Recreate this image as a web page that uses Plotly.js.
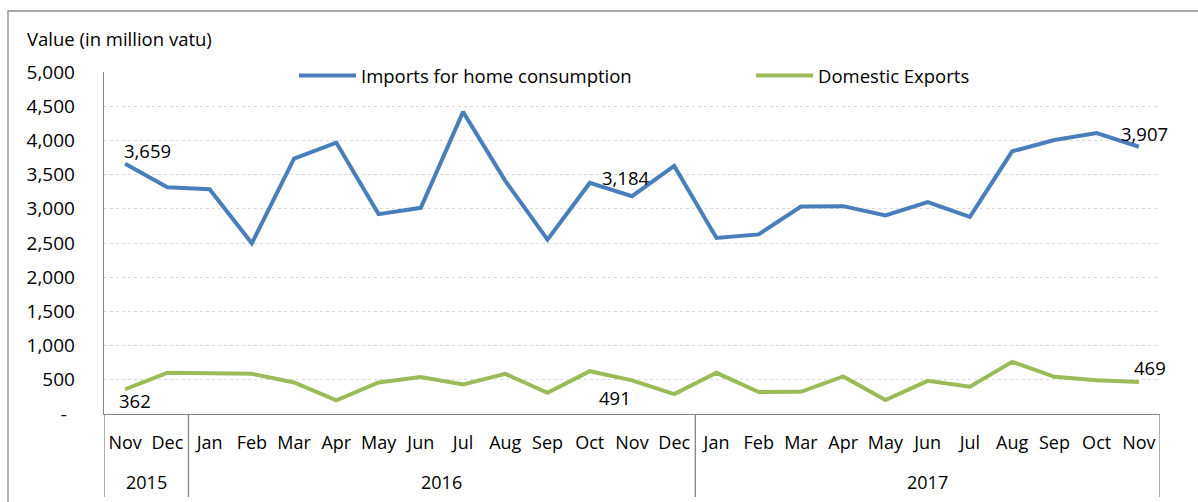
<!DOCTYPE html>
<html>
<head>
<meta charset="utf-8">
<script src="https://cdn.plot.ly/plotly-3.0.1.min.js"></script>
<style>
html,body{margin:0;padding:0;background:#fff;}
#chart{width:1198px;height:502px;}
</style>
</head>
<body>
<div id="chart"></div>
<script>
const months = ['Nov','Dec','Jan','Feb','Mar','Apr','May','Jun','Jul','Aug','Sep','Oct','Nov','Dec','Jan','Feb','Mar','Apr','May','Jun','Jul','Aug','Sep','Oct','Nov'];
const years = ['2015','2015','2016','2016','2016','2016','2016','2016','2016','2016','2016','2016','2016','2016','2017','2017','2017','2017','2017','2017','2017','2017','2017','2017','2017'];
const imports = [3659,3316,3287,2495,3733,3966,2922,3014,4417,3408,2548,3378,3184,3626,2573,2626,3034,3039,2903,3097,2883,3840,4005,4107,3907];
const exportsDom = [362,602,597,587,461,199,461,539,432,587,311,626,491,291,602,320,325,549,204,485,398,762,543,495,469];
const yTickVals = [0,500,1000,1500,2000,2500,3000,3500,4000,4500,5000];
const yTickText = ['-\u00a0\u2009','500','1,000','1,500','2,000','2,500','3,000','3,500','4,000','4,500','5,000'];
const labelIdx = [0,12,24];

const FONT = 'Open Sans, sans-serif';
const idx = months.map((m,i)=>i);
const fmt = v => v.toLocaleString('en-US');

const traces = [
  {x: idx, y: imports, type:'scatter', mode:'lines', name:'Imports for home consumption',
   line:{color:'#4a7ebb', width:4}, hoverinfo:'skip', legend:'legend'},
  {x: idx, y: exportsDom, type:'scatter', mode:'lines', name:'Domestic Exports',
   line:{color:'#9bbb59', width:4}, hoverinfo:'skip', legend:'legend2'}
];

const impShift = [[22,13],[-6,19],[6,13]];
const expShift = [[10,-11],[-17,-17],[11,14]];
const annotations = [];
labelIdx.forEach((i,k)=>{
  annotations.push({x:i, y:imports[i], xref:'x', yref:'y', text:fmt(imports[i]), showarrow:false,
    xanchor:'center', yanchor:'middle', xshift:impShift[k][0], yshift:impShift[k][1],
    font:{family:FONT, size:18.5, color:'#000'}});
  annotations.push({x:i, y:exportsDom[i], xref:'x', yref:'y', text:fmt(exportsDom[i]), showarrow:false,
    xanchor:'center', yanchor:'middle', xshift:expShift[k][0], yshift:expShift[k][1],
    font:{family:FONT, size:18.5, color:'#000'}});
});

const groups = [];
years.forEach((y,i)=>{
  if (!groups.length || groups[groups.length-1].year !== y) groups.push({year:y, start:i, end:i});
  else groups[groups.length-1].end = i;
});
const shapes = [];
const divBottom = -83/342;
groups.forEach((g,k)=>{
  annotations.push({x:(g.start+g.end)/2, y:-68/342, xref:'x', yref:'paper', text:g.year, showarrow:false,
    xanchor:'center', yanchor:'middle', font:{family:FONT, size:18, color:'#000'}});
  if (k===0) shapes.push({type:'line', xref:'x', yref:'paper', x0:g.start-0.5, x1:g.start-0.5, y0:0, y1:divBottom, line:{color:'#868686', width:1.3}});
  shapes.push({type:'line', xref:'x', yref:'paper', x0:g.end+0.5, x1:g.end+0.5, y0:0, y1:divBottom, line:{color:'#868686', width:1.3}});
});

annotations.push({x:(25-104)/1056, y:(414-39)/342, xref:'paper', yref:'paper', text:'Value (in million vatu)',
  showarrow:false, xanchor:'left', yanchor:'middle', font:{family:FONT, size:18.5, color:'#000'}});

shapes.push({type:'rect', xref:'paper', yref:'paper', x0:(8-104)/1056, x1:(1230-104)/1056, y0:(414-540)/342, y1:(414-11)/342,
  line:{color:'#8c8c8c', width:1.3}, fillcolor:'rgba(0,0,0,0)', layer:'below'});

const legendBase = {orientation:'h', y:(414-76)/342, xanchor:'left', yanchor:'middle',
  font:{family:FONT, size:18.5, color:'#000'}, bgcolor:'rgba(0,0,0,0)', itemwidth:57};

const layout = {
  width:1198, height:502,
  margin:{l:104, r:38, t:72, b:88},
  paper_bgcolor:'#fff', plot_bgcolor:'#fff',
  font:{family:FONT, size:18, color:'#000'},
  showlegend:true,
  legend:Object.assign({}, legendBase, {x:(294-104)/1056}),
  legend2:Object.assign({}, legendBase, {x:(751-104)/1056}),
  xaxis:{range:[-0.5, months.length-0.5], tickvals:idx, ticktext:months, showgrid:false, zeroline:false,
    showline:true, linecolor:'#868686', linewidth:1.3, ticks:'', ticklabelstandoff:12, fixedrange:true,
    tickfont:{family:FONT, size:18, color:'#000'}},
  yaxis:{range:[0,5000], tickvals:yTickVals, ticktext:yTickText, showgrid:true, gridcolor:'#d9d9d9', griddash:'dot', gridwidth:1,
    zeroline:false, showline:true, linecolor:'#868686', linewidth:1.3, ticks:'', ticklabelstandoff:24, fixedrange:true,
    tickfont:{family:FONT, size:19, color:'#000'}},
  annotations: annotations,
  shapes: shapes
};

Plotly.newPlot('chart', traces, layout, {displayModeBar:false, staticPlot:true});
</script>
</body>
</html>
